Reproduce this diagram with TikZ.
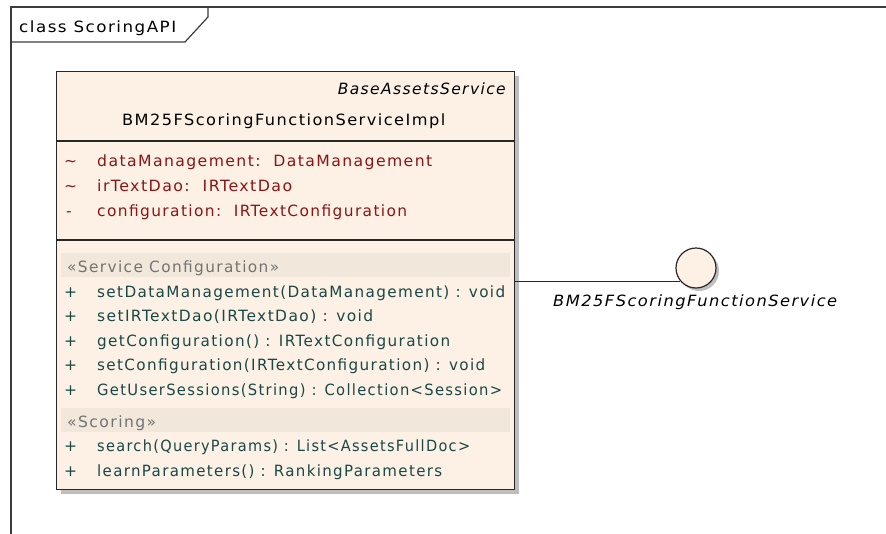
\documentclass[tikz,border=0pt]{standalone}
\usepackage{fontspec}
\usepackage{graphicx}
\newfontfamily\umlfont[LetterSpace=9]{DejaVu Sans}
\newcommand\fitw[2]{\resizebox{#1pt}{\height}{#2}}
\definecolor{cream}{RGB}{252,241,228}
\definecolor{band}{RGB}{241,232,219}
\definecolor{attrred}{RGB}{140,20,20}
\definecolor{methteal}{RGB}{25,72,72}
\definecolor{stereogray}{RGB}{115,115,115}
\definecolor{border}{RGB}{40,40,40}
\definecolor{framec}{RGB}{60,60,60}
\definecolor{shadowc}{RGB}{190,190,190}
\begin{document}
\begin{tikzpicture}[x=1pt,y=-1pt,
  txt/.style={inner sep=0pt,anchor=base west,font=\umlfont\fontsize{15.5}{18}\selectfont},
  itxt/.style={txt,font=\umlfont\itshape\fontsize{15.5}{18}\selectfont},
  attr/.style={txt,text=attrred},
  meth/.style={txt,text=methteal},
  stereo/.style={txt,text=stereogray},
  plain/.style={txt,text=black},
  bandbox/.style={fill=band,draw=none},
  framepen/.style={draw=framec,line width=1.6pt},
  boxpen/.style={draw=border,line width=1.4pt}]
\useasboundingbox (0,0) rectangle (886,533);
% frame
\draw[framepen] (11,540) -- (11,7) -- (890,7);
\draw[framepen,line width=1.2pt] (11,42) -- (185,42) -- (208,17) -- (208,7);
\node[plain] (title) at (19,32) {\fitw{157}{class ScoringAPI}};
% class box
\fill[shadowc] (61,76) rectangle (519,494);
\node[boxpen,fill=cream,minimum width=458pt,minimum height=418pt,inner sep=0pt,anchor=north west] (cls) at (56,71) {};
\draw[boxpen] (56,141) -- (514,141);
\draw[boxpen] (56,240) -- (514,240);
\node[plain,itxt,anchor=base east] (base) at (506,94) {\fitw{168}{BaseAssetsService}};
\node[plain,anchor=base west] (cname) at (122,125) {\fitw{323}{BM25FScoringFunctionServiceImpl}};
% attributes
\node[attr] (v1) at (64,166) {\char`\~};
\node[attr] (a1) at (97,166) {\fitw{335}{dataManagement:\ \ DataManagement}};
\node[attr] (v2) at (64,191) {\char`\~};
\node[attr] (a2) at (97,191) {\fitw{195}{irTextDao:\ \ IRTextDao}};
\node[attr] (v3) at (66,216) {-};
\node[attr] (a3) at (97,216) {\fitw{310}{configuration:\ \ IRTextConfiguration}};
% operations
\fill[bandbox] (61,253) rectangle (510,277);
\node[stereo] (s1) at (67,272) {\fitw{212}{«Service Configuration»}};
\foreach \y/\w/\t [count=\i] in {297/408/{setDataManagement(DataManagement) : void},
    321.5/276/{setIRTextDao(IRTextDao) : void},
    346/353/{getConfiguration() : IRTextConfiguration},
    370.5/388/{setConfiguration(IRTextConfiguration) : void},
    395/405/{GetUserSessions(String) : Collection<Session>}}{
  \node[meth] (p\i) at (64,\y) {+};
  \node[meth] (m\i) at (97,\y) {\fitw{\w}{\t}};
}
\fill[bandbox] (61,408) rectangle (510,432);
\node[stereo] (s2) at (67,427) {\fitw{89}{«Scoring»}};
\node[meth] (p6) at (64,451) {+};
\node[meth] (m6) at (97,451) {\fitw{373}{search(QueryParams) : List<AssetsFullDoc>}};
\node[meth] (p7) at (64,476) {+};
\node[meth] (m7) at (97,476) {\fitw{345}{learnParameters() : RankingParameters}};
% interface
\fill[shadowc] (699,271) circle (20pt);
\node[circle,draw=border,line width=1.2pt,fill=cream,minimum size=40pt,inner sep=0pt] (iface) at (696,268) {};
\draw[draw=border,line width=1.2pt] (cls.east |- iface.220) -- (iface.220);
\node[plain,itxt] (ilabel) at (553,306) {\fitw{284}{BM25FScoringFunctionService}};
\end{tikzpicture}
\end{document}
